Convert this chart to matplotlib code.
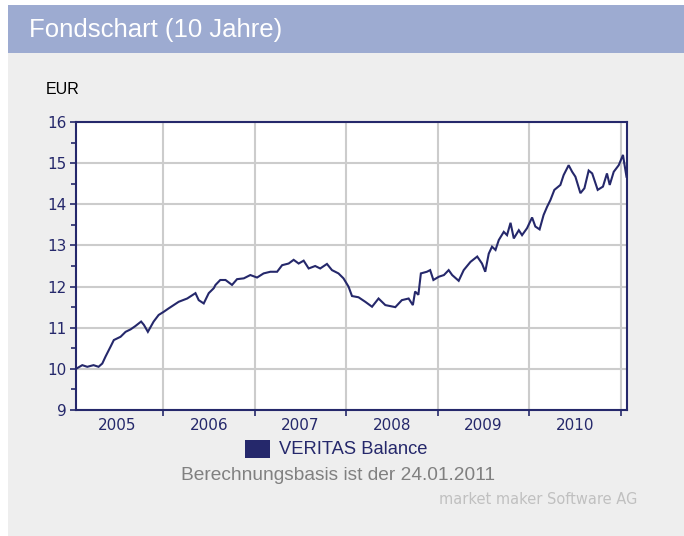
import pandas as pd
import matplotlib
matplotlib.use('Agg')
import matplotlib.pyplot as plt
import matplotlib.dates as mdates
from matplotlib.patches import Rectangle

# fund prices (EUR)
dates = [
    '2005-01-17', '2005-02-11', '2005-03-03', '2005-03-28', '2005-04-17', '2005-05-02',
    '2005-05-15', '2005-06-04', '2005-06-17', '2005-07-14', '2005-08-03', '2005-08-23',
    '2005-09-11', '2005-10-04', '2005-10-15', '2005-10-31', '2005-11-23', '2005-12-13',
    '2006-01-03', '2006-01-22', '2006-02-11', '2006-03-03', '2006-04-06', '2006-05-09',
    '2006-05-22', '2006-06-11', '2006-07-01', '2006-07-21', '2006-07-28', '2006-08-16',
    '2006-09-06', '2006-10-02', '2006-10-22', '2006-11-18', '2006-12-14',
    '2007-01-10', '2007-02-05', '2007-03-04', '2007-03-31', '2007-04-20', '2007-05-16',
    '2007-06-05', '2007-06-25', '2007-07-15', '2007-08-04', '2007-08-30', '2007-09-19',
    '2007-10-16', '2007-11-05', '2007-12-01', '2007-12-21',
    '2008-01-10', '2008-01-24', '2008-02-19', '2008-03-17', '2008-04-13', '2008-05-09',
    '2008-06-05', '2008-07-15', '2008-08-10', '2008-09-06', '2008-09-23', '2008-10-02',
    '2008-10-15', '2008-10-25', '2008-11-18', '2008-12-01', '2008-12-14',
    '2009-01-05', '2009-01-25', '2009-02-13', '2009-02-27', '2009-03-25', '2009-04-14',
    '2009-05-11', '2009-06-07', '2009-06-26', '2009-07-09', '2009-07-23', '2009-08-05',
    '2009-08-19', '2009-09-01', '2009-09-21', '2009-10-04', '2009-10-18', '2009-10-31',
    '2009-11-20', '2009-12-03', '2009-12-23',
    '2010-01-12', '2010-01-25', '2010-02-11', '2010-02-27', '2010-03-13', '2010-03-26',
    '2010-04-11', '2010-05-05', '2010-05-18', '2010-06-07', '2010-06-21', '2010-07-04',
    '2010-07-24', '2010-08-09', '2010-08-26', '2010-09-09', '2010-10-01', '2010-10-22',
    '2010-11-07', '2010-11-18', '2010-12-04', '2010-12-24',
    '2011-01-10', '2011-01-15', '2011-01-24',
]
prices = [
    10.00, 10.09, 10.05, 10.09, 10.05, 10.13,
    10.30, 10.54, 10.70, 10.78, 10.90, 10.96,
    11.04, 11.15, 11.07, 10.90, 11.15, 11.31,
    11.39, 11.47, 11.55, 11.63, 11.71, 11.84,
    11.67, 11.59, 11.84, 11.96, 12.04, 12.16,
    12.16, 12.04, 12.18, 12.20, 12.28,
    12.22, 12.32, 12.36, 12.36, 12.52, 12.56,
    12.65, 12.56, 12.63, 12.44, 12.50, 12.44,
    12.55, 12.40, 12.32, 12.20,
    12.00, 11.77, 11.74, 11.63, 11.51, 11.71,
    11.55, 11.50, 11.67, 11.71, 11.55, 11.88,
    11.80, 12.32, 12.36, 12.40, 12.16,
    12.24, 12.28, 12.40, 12.28, 12.14, 12.40,
    12.60, 12.73, 12.56, 12.36, 12.80, 12.97,
    12.89, 13.13, 13.33, 13.25, 13.55, 13.17,
    13.37, 13.25, 13.42,
    13.68, 13.46, 13.39, 13.74, 13.94, 14.10,
    14.35, 14.47, 14.71, 14.95, 14.79, 14.67,
    14.27, 14.39, 14.82, 14.75, 14.35, 14.43,
    14.75, 14.47, 14.79, 14.95,
    15.20, 15.00, 14.67,
]
year_labels = ['2005', '2006', '2007', '2008', '2009', '2010']
y_ticks = [9, 10, 11, 12, 13, 14, 15, 16]

series = pd.Series(prices, index=pd.to_datetime(dates))

W, H = 684, 536
navy = '#25286b'

fig = plt.figure(figsize=(W / 100, H / 100), dpi=100)
fig.patch.set_facecolor('white')


def px(x, y, w, h):
    # pixel box (top-left origin) -> figure fraction
    return (x / W, 1 - (y + h) / H, w / W, h / H)


def box(x, y, w, h, color, z=-5):
    l, b, ww, hh = px(x, y, w, h)
    fig.patches.append(Rectangle((l, b), ww, hh, transform=fig.transFigure,
                                 facecolor=color, edgecolor='none', zorder=z))


# header band and grey panel
box(8, 5, W - 8, 48, '#9dabd1')
box(8, 53, W - 8, H - 53, '#eeeeee')
fig.text(29 / W, 1 - 30 / H, 'Fondschart (10 Jahre)', color='white',
         fontsize=18.5, family='Liberation Sans', va='center', ha='left')

ax = fig.add_axes(px(76, 122, 551, 288))
ax.set_facecolor('white')
ax.plot(series.index, series.values, color=navy, lw=1.5, solid_joinstyle='miter')

ax.set_ylim(9, 16)
ax.set_xlim(pd.Timestamp('2005-01-17'), pd.Timestamp('2011-01-26'))
ax.set_yticks(y_ticks)
ax.set_yticks([v + 0.5 for v in y_ticks[:-1]], minor=True)

# year boundaries as major ticks, labels in the middle of each year
ax.xaxis.set_major_locator(mdates.YearLocator())
ax.xaxis.set_major_formatter(plt.NullFormatter())
mids = [pd.Timestamp(f'{y}-07-02') for y in year_labels]
ax.set_xticks(mids, minor=True)
ax.set_xticklabels(year_labels, minor=True)

ax.grid(True, which='major', color='#cccccc', lw=1.5)
ax.set_axisbelow(True)
for s in ax.spines.values():
    s.set_color(navy)
    s.set_linewidth(1.5)

ax.tick_params(axis='y', which='major', length=4.5, width=1.2, color=navy,
               labelcolor=navy, labelsize=11, pad=2)
ax.tick_params(axis='y', which='minor', length=3.5, width=1.2, color=navy)
ax.tick_params(axis='x', which='major', length=4, width=1.2, color=navy)
ax.tick_params(axis='x', which='minor', length=0, labelcolor=navy,
               labelsize=11, pad=6)
for lab in ax.get_xticklabels(minor=True) + ax.get_yticklabels():
    lab.set_family('DejaVu Sans')

fig.text(46 / W, 1 - 90 / H, 'EUR', color='black', fontsize=11.5,
         family='Liberation Sans', va='center', ha='left')

# legend and footer
box(245, 440, 25, 18, navy, z=1)
fig.text(279 / W, 1 - 450 / H, 'VERITAS Balance', color=navy, fontsize=13.2,
         family='Liberation Sans', va='center', ha='left')
fig.text(338 / W, 1 - 476 / H, 'Berechnungsbasis ist der 24.01.2011',
         color='#808080', fontsize=13.8, family='Liberation Sans',
         va='center', ha='center')
fig.text(637 / W, 1 - 500 / H, 'market maker Software AG', color='#c0c0c0',
         fontsize=10.5, family='DejaVu Sans', va='center', ha='right')

fig.savefig('out.png', dpi=100)
